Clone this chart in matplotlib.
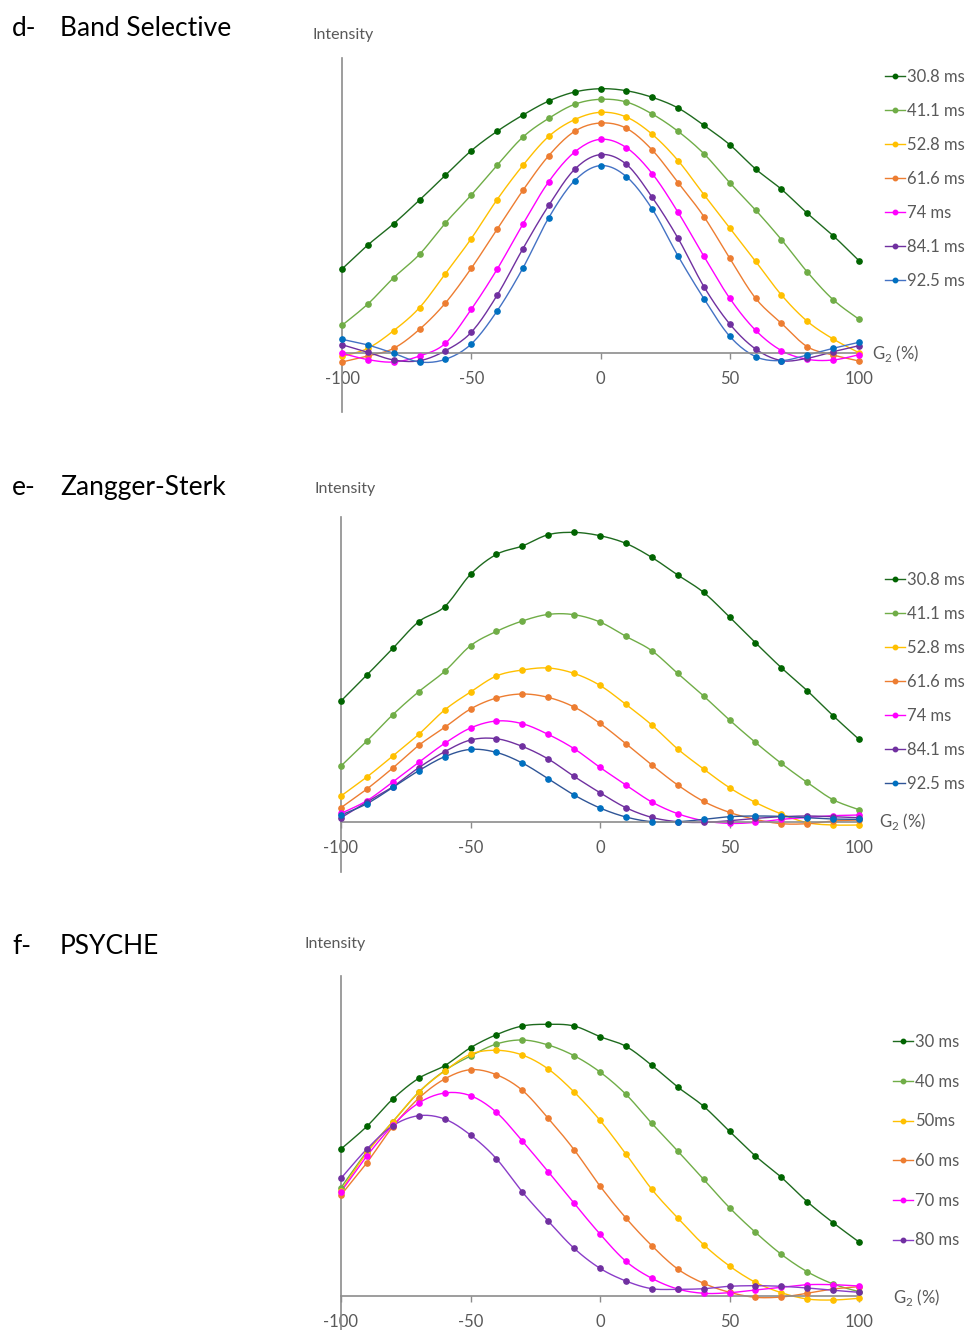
import numpy as np
import matplotlib
matplotlib.use('Agg')
import matplotlib.pyplot as plt
from matplotlib.lines import Line2D

plt.rcParams['font.family'] = ['Lato', 'DejaVu Sans']

# gradient strength G2 (%)
g2 = np.arange(-100, 101, 10)

# d- Band Selective
band_labels = ['30.8 ms', '41.1 ms', '52.8 ms', '61.6 ms', '74 ms', '84.1 ms', '92.5 ms']
band_30 = [84.3, 108.3, 129.6, 153.3, 178, 202.6, 222, 238.3, 252.3, 261.3, 264.6, 262.6, 256, 245.3, 228, 208.6, 184.3, 164, 140, 117.6, 92.6]
band_41 = [28, 49.3, 75.6, 99, 130.3, 158.3, 188, 216.3, 235, 249, 254, 251.3, 239.3, 222, 199.6, 170.6, 143.3, 113.6, 81.3, 53.6, 34]
band_52 = [-3, 5, 22.7, 45.7, 79.7, 114.7, 153.7, 188, 217, 233.7, 241, 236.3, 219, 192.7, 158.7, 125.3, 92, 58.3, 32, 14.3, 0.6]
band_61 = [-8.7, -2.7, 5, 24, 50.3, 85, 124, 163, 197.7, 222, 230.3, 225, 203.3, 170.7, 136.7, 95, 55, 30, 6.6, -1.7, -7.7]
band_74 = [0, -6.3, -8.7, -2.7, 10, 44, 84, 129.3, 171.7, 201.3, 214, 205.7, 179.7, 141, 97, 55, 23, 2.7, -6, -6.7, -1.4]
band_84 = [8.6, 1, -6.7, -7.4, 2.6, 21, 58, 104.7, 148, 184, 198.7, 189, 156, 115, 66.7, 29.3, 4.3, -7.3, -5, 1.6, 7.6]
band_92 = [14, 8.3, 0, -8.7, -6, 9.3, 42.3, 85.3, 135.7, 172.7, 187.7, 176.7, 144.3, 97.3, 54.7, 17, -3.3, -7.3, -1.7, 5, 11]

# e- Zangger-Sterk
zs_labels = ['30.8 ms', '41.1 ms', '52.8 ms', '61.6 ms', '74 ms', '84.1 ms', '92.5 ms']
zs_30 = [120.7, 146.7, 173.3, 200, 215, 247.3, 267.3, 275.7, 287, 289.3, 286, 278.3, 264.3, 246.7, 229.3, 204.7, 179, 154, 131, 106, 82.3]
zs_41 = [55.7, 80.7, 107, 130, 150.3, 176, 190.3, 200.7, 207.3, 207, 199.7, 185.3, 171, 148.3, 125.7, 101.7, 79.3, 58.3, 39.3, 22, 12]
zs_52 = [25.7, 44.7, 65.7, 87.3, 111.7, 129.7, 145.7, 151.7, 153.7, 148.3, 136.3, 117.3, 96.7, 72.7, 52.7, 34, 19.3, 7.7, -1, -3.3, -3.3]
zs_61 = [14, 32.7, 53.7, 76.3, 94.3, 112.7, 123.7, 127.7, 124.3, 114.7, 98.3, 78, 56.7, 36.7, 20.3, 9.3, 2.3, -2, -2, 0.7, 1.7]
zs_74 = [8.3, 21, 39.7, 59.3, 78.3, 93.7, 100.7, 98, 87.3, 73, 54.3, 36.7, 19.7, 8, 1, -1.7, -0.7, 2.3, 4.3, 6, 6.7]
zs_84 = [4, 19.7, 35, 54, 70, 81.7, 83, 75.3, 62.7, 45.3, 29, 14, 4.3, 0, -0.7, 1, 3.3, 5, 5.7, 5, 4]
zs_92 = [6.7, 18, 34.3, 51, 65, 72.3, 69.3, 58.7, 43, 26.7, 13.7, 4.7, 0, 0, 2.3, 5, 5.7, 5.3, 4, 2.7, 2.3]

# f- PSYCHE
psy_labels = ['30 ms', '40 ms', '50ms', '60 ms', '70 ms', '80 ms']
psy_30 = [146.7, 169.4, 196.7, 217.4, 230, 248, 261, 269.7, 271.4, 269.7, 259, 249.4, 230.4, 208.7, 189.4, 164.4, 139.7, 118.4, 94, 73, 53.7]
psy_40 = [108, 144, 174, 203.4, 225, 239.7, 251.7, 255.7, 250.7, 240, 223.7, 201.4, 172.4, 144.7, 116.4, 88, 63.4, 41.4, 24, 11.7, 4]
psy_50 = [105, 143, 174, 203.4, 224.7, 241.4, 245.4, 240.7, 226.7, 203.7, 175.4, 141.7, 106.4, 77.7, 51, 29.7, 13.4, 3, -3.3, -4.3, -2.6]
psy_60 = [100.7, 133, 169, 197.4, 216.7, 226, 221, 205.4, 177.4, 146, 109.7, 77.7, 50, 26.7, 12.4, 3.4, -1.6, -1.3, 2.4, 6.7, 9]
psy_70 = [104, 139.7, 170.4, 192.7, 202.7, 200, 183.4, 154.7, 124, 92.4, 61.7, 34.4, 17.4, 6.7, 2.4, 3, 5.7, 8.4, 11, 11, 9.7]
psy_80 = [117.4, 146.7, 170, 180, 176.7, 160.7, 137, 103.7, 74.7, 47.4, 27.4, 14.7, 7, 6.4, 7, 9.4, 10, 9.4, 7.7, 5.4, 3.4]

# (marker colour, line colour)
c_dg = ('#006400', '#1E6A1E')
c_lg = ('#70AD47', '#70AD47')
c_ye = ('#FFC000', '#FFC000')
c_or = ('#ED7D31', '#ED7D31')
c_ma = ('#FF00FF', '#FF00FF')
c_pu = ('#7030A0', '#7030A0')
c_bl = ('#0070C0', '#4472C4')

W, H = 970, 1330
GRAY = '#595959'
AXIS = '#8C8C8C'


def smooth(x, y, n=12):
    # Excel-like smoothed line (Catmull-Rom as Bezier) through the points
    p = np.column_stack([x, y]).astype(float)
    out = [p[0]]
    t = np.linspace(0, 1, n + 1)[1:, None]
    for i in range(len(p) - 1):
        p0 = p[i - 1] if i > 0 else p[i]
        p1, p2 = p[i], p[i + 1]
        p3 = p[i + 2] if i + 2 < len(p) else p[i + 1]
        c1 = p1 + (p2 - p0) / 6
        c2 = p2 - (p3 - p1) / 6
        seg = ((1 - t) ** 3) * p1 + 3 * ((1 - t) ** 2) * t * c1 + 3 * (1 - t) * t ** 2 * c2 + t ** 3 * p2
        out.extend(seg)
    out = np.array(out)
    return out[:, 0], out[:, 1]


def fx(px):
    return px / W


def fy(py):
    return 1 - py / H


def draw_panel(rect_px, ylim, series, labels, colors, title_tag, title, title_y,
               int_xy, g2_xy, leg_top, leg_step):
    l, r, t, b = rect_px
    ax = fig.add_axes([fx(l), fy(b), fx(r) - fx(l), (b - t) / H])
    for vals, col in zip(series, colors):
        sx, sy = smooth(g2, vals)
        ax.plot(sx, sy, color=col[1], lw=1.0, clip_on=False, zorder=2)
        ax.plot(g2, vals, 'o', color=col[0], ms=3.8, mec=col[0], clip_on=False, zorder=3)
    ax.set_xlim(-100, 100)
    ax.set_ylim(*ylim)
    for s in ['top', 'right']:
        ax.spines[s].set_visible(False)
    ax.spines['bottom'].set_position(('data', 0))
    for s in ['bottom', 'left']:
        ax.spines[s].set_color(AXIS)
        ax.spines[s].set_linewidth(1.2)
    ax.set_yticks([])
    ax.set_xticks([-100, -50, 0, 50, 100])
    ax.set_xticklabels(['-100', '-50', '0', '50', '100'])
    ax.tick_params(axis='x', direction='out', length=4, width=1, color=AXIS,
                   labelcolor=GRAY, labelsize=12, pad=9)
    ax.patch.set_alpha(0)

    handles = [Line2D([], [], color=c[1], marker='o', ms=3.2, mfc=c[0], mec=c[0], lw=1.0)
               for c in colors]
    fig.legend(handles, labels, loc='upper left',
               bbox_to_anchor=(fx(leg_top[0]), fy(leg_top[1])), frameon=False,
               fontsize=12, labelcolor=GRAY, handlelength=1.2, handletextpad=0.12,
               labelspacing=leg_step, borderpad=0, borderaxespad=0)

    fig.text(fx(12), fy(title_y), title_tag, fontsize=19, va='center', ha='left')
    fig.text(fx(60), fy(title_y), title, fontsize=19, va='center', ha='left')
    fig.text(fx(int_xy[0]), fy(int_xy[1]), 'Intensity', fontsize=11.5, color=GRAY,
             va='center', ha='left')
    fig.text(fx(g2_xy[0]), fy(g2_xy[1]), r'G$_\mathregular{2}$ (%)', fontsize=12,
             color=GRAY, va='center', ha='left')
    return ax


fig = plt.figure(figsize=(W / 100, H / 100), dpi=100)

band_colors = [c_dg, c_lg, c_ye, c_or, c_ma, c_pu, c_bl]
draw_panel((342, 859, 58, 412), (-58.7, 295.3),
           [band_30, band_41, band_52, band_61, band_74, band_84, band_92],
           band_labels, band_colors, 'd-', 'Band Selective', 29,
           (312, 35), (872, 354), (885, 69), 1.08)

zs_colors = [c_dg, c_lg, c_ye, c_or, c_ma, c_pu, ('#0070C0', '#2F5597')]
draw_panel((341, 859, 517, 872), (-50.3, 304.7),
           [zs_30, zs_41, zs_52, zs_61, zs_74, zs_84, zs_92],
           zs_labels, zs_colors, 'e-', 'Zangger-Sterk', 488,
           (314, 489), (879, 822), (885, 572), 1.08)

psy_colors = [c_dg, c_lg, c_ye, c_or, c_ma, ('#7030A0', '#8A3CC8')]
draw_panel((341, 859, 976, 1332), (-36.3, 319.7),
           [psy_30, psy_40, psy_50, psy_60, psy_70, psy_80],
           psy_labels, psy_colors, 'f-', 'PSYCHE', 946,
           (305, 944), (893, 1297), (893, 1034), 1.42)

fig.savefig('out.png', dpi=100)
